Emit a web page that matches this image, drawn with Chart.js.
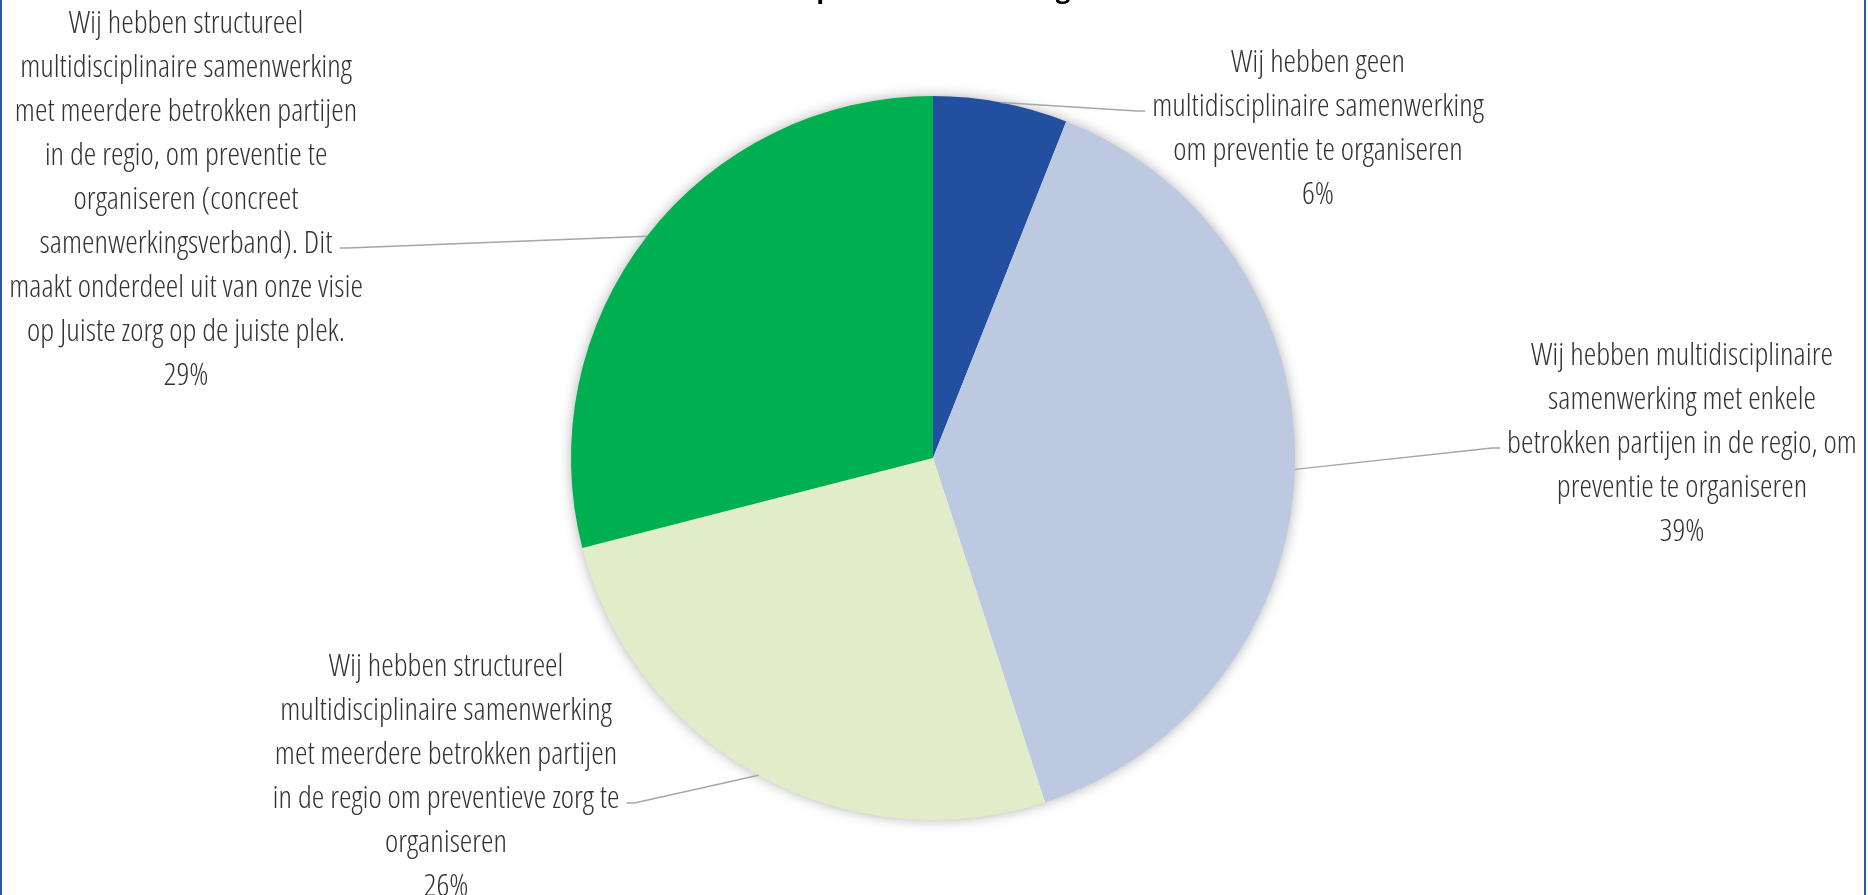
<!DOCTYPE html>
<html>
<head>
<meta charset="utf-8">
<script src="https://cdn.jsdelivr.net/npm/chart.js@4.4.1/dist/chart.umd.min.js"></script>
<style>
  html, body { margin: 0; padding: 0; background: #fff; overflow: hidden; }
  #frame {
    position: absolute; left: 0; top: -25px;
    width: 1862px; height: 1000px;
    border-left: 2px solid #2f56a5; border-right: 2px solid #2f56a5;
  }
  #box { position: relative; width: 1862px; height: 920px; }
</style>
</head>
<body>
<div id="frame"><div id="box"><canvas id="pieChart"></canvas></div></div>
<script>
// Data
const chartTitle = 'Opzet samenwerking';
const categories = [
  ['Wij hebben geen', 'multidisciplinaire samenwerking', 'om preventie te organiseren'],
  ['Wij hebben multidisciplinaire', 'samenwerking met enkele', 'betrokken partijen in de regio, om', 'preventie te organiseren'],
  ['Wij hebben structureel', 'multidisciplinaire samenwerking', 'met meerdere betrokken partijen', 'in de regio om preventieve zorg te', 'organiseren'],
  ['Wij hebben structureel', 'multidisciplinaire samenwerking', 'met meerdere betrokken partijen', 'in de regio, om preventie te', 'organiseren (concreet', 'samenwerkingsverband). Dit', 'maakt onderdeel uit van onze visie', 'op Juiste zorg op de juiste plek.']
];
const shares = [6, 39, 26, 29];

// Styles
const sliceColors = ['#234fa0', '#bdc9e1', '#e1ecc8', '#00af50'];
const LABEL_FONT = '300 31.6px "Open Sans"';
const LINE_H = 44;
// label block position relative to pie centre: centre x offset, first baseline offset, line that gets the leader
const labelLayout = [
  { dx: 385, dy: -386, lead: 1 },
  { dx: 749, dy: -93, lead: 2 },
  { dx: -487, dy: 218, lead: 3 },
  { dx: -747, dy: -425, lead: 5 }
];

// soft shadow behind the pie
const pieShadow = {
  id: 'pieShadow',
  beforeDatasetsDraw(chart) {
    const arc = chart.getDatasetMeta(0).data[0];
    if (!arc) return;
    const { x, y, outerRadius } = arc.getProps(['x', 'y', 'outerRadius'], true);
    const ctx = chart.ctx;
    ctx.save();
    ctx.shadowColor = 'rgba(0,0,0,0.35)';
    ctx.shadowBlur = 14;
    ctx.fillStyle = '#fff';
    ctx.beginPath();
    ctx.arc(x, y, outerRadius - 1, 0, Math.PI * 2);
    ctx.fill();
    ctx.restore();
  }
};

// data labels outside the pie with leader lines
const outsideLabels = {
  id: 'outsideLabels',
  afterDatasetsDraw(chart) {
    const ctx = chart.ctx;
    const meta = chart.getDatasetMeta(0);
    meta.data.forEach((arc, i) => {
      const p = arc.getProps(['x', 'y', 'startAngle', 'endAngle', 'outerRadius'], true);
      const mid = (p.startAngle + p.endAngle) / 2;
      const sx = p.x + Math.cos(mid) * p.outerRadius;
      const sy = p.y + Math.sin(mid) * p.outerRadius;
      const lay = labelLayout[i];
      const lines = [...categories[i], shares[i] + '%'];
      const cx = p.x + lay.dx;
      const by = p.y + lay.dy;

      ctx.save();
      ctx.font = LABEL_FONT;
      ctx.fontStretch = 'condensed';
      ctx.fillStyle = '#333333';
      ctx.textAlign = 'center';
      ctx.textBaseline = 'alphabetic';
      lines.forEach((t, k) => ctx.fillText(t, cx, by + k * LINE_H));

      // leader: from slice edge to the side of the label that faces the pie
      const w = ctx.measureText(lines[lay.lead]).width;
      const ly = by + lay.lead * LINE_H - 5;
      const dir = sx < cx ? 1 : -1;
      const ex = cx - dir * (w / 2 + 7);
      ctx.strokeStyle = '#a6a6a6';
      ctx.lineWidth = 1.5;
      ctx.beginPath();
      ctx.moveTo(sx, sy);
      ctx.lineTo(ex - dir * 8, ly);
      ctx.lineTo(ex, ly);
      ctx.stroke();
      ctx.restore();
    });
  }
};

const ctx = document.getElementById('pieChart').getContext('2d');
new Chart(ctx, {
  type: 'pie',
  data: {
    labels: categories,
    datasets: [{
      data: shares,
      backgroundColor: sliceColors,
      borderWidth: 0
    }]
  },
  options: {
    responsive: true,
    maintainAspectRatio: false,
    animation: false,
    layout: { padding: { top: 0, bottom: 75, left: 0, right: 0 } },
    plugins: {
      legend: { display: false },
      tooltip: { enabled: false },
      title: {
        display: true,
        text: chartTitle,
        color: '#000',
        font: { family: 'Open Sans', size: 26, weight: 'bold', lineHeight: 1.2 },
        padding: { top: 0, bottom: 89.8 }
      }
    }
  },
  plugins: [pieShadow, outsideLabels]
});
</script>
</body>
</html>
